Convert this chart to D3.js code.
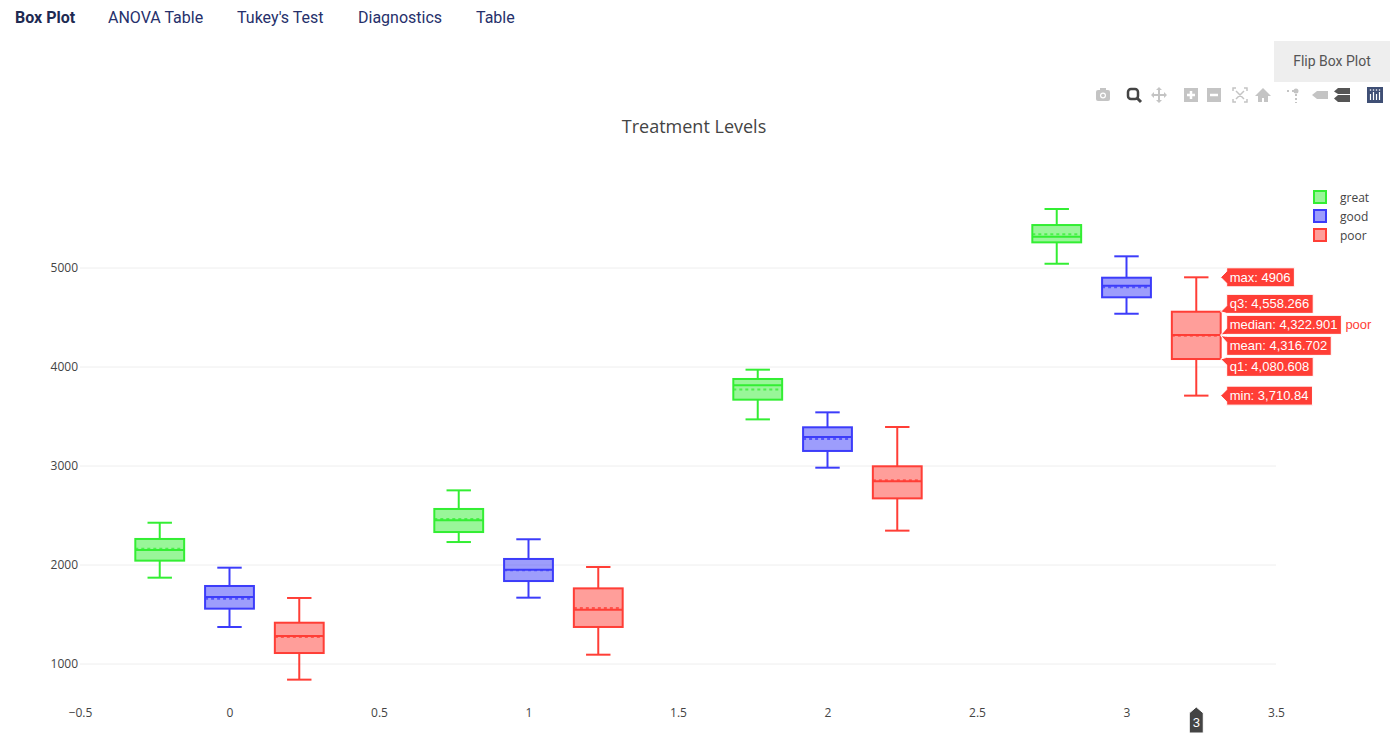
<!DOCTYPE html>
<html>
<head>
<meta charset="utf-8">
<script src="https://cdn.jsdelivr.net/npm/d3@7"></script>
<style>
  body { margin: 0; background: #fff; font-family: Roboto, "Open Sans", Arial, sans-serif; }
  #nav { position: absolute; left: 0; top: 0; height: 38px; }
  #nav span { position: absolute; top: 8px; font-size: 16px; color: #26306b; white-space: nowrap; }
  #nav span.active { font-weight: bold; color: #1e2a52; }
  #flip { position: absolute; left: 1274px; top: 41px; width: 116px; height: 41px; background: #eeeeee;
          color: #555; font-size: 14px; line-height: 41px; text-align: center; }
  #chart { position: absolute; left: 0; top: 0; }
</style>
</head>
<body>
<div id="nav">
  <span class="active" style="left:15px">Box Plot</span>
  <span style="left:108px">ANOVA Table</span>
  <span style="left:237px">Tukey's Test</span>
  <span style="left:358px">Diagnostics</span>
  <span style="left:476px">Table</span>
</div>
<div id="flip">Flip Box Plot</div>
<svg id="chart" width="1395" height="747"></svg>
<script>
// x positions of the treatment groups
var groups = [0, 1, 2, 3];
var seriesNames = ["great", "good", "poor"];
var seriesColors = ["rgb(51,238,51)", "rgb(60,60,250)", "rgb(255,62,54)"];
// per group: [min, q1, median, q3, max, mean]
var great = [
  [1872, 2044, 2152, 2263, 2427, 2165],
  [2232, 2333, 2451, 2566, 2754, 2465],
  [3471, 3670, 3815, 3879, 3973, 3774],
  [5043, 5259, 5316, 5434, 5596, 5340]
];
var good = [
  [1374, 1559, 1677, 1788, 1973, 1660],
  [1670, 1838, 1953, 2061, 2260, 1946],
  [2983, 3152, 3293, 3391, 3542, 3273],
  [4538, 4704, 4821, 4902, 5118, 4805]
];
var poor = [
  [842, 1111, 1283, 1417, 1667, 1273],
  [1094, 1374, 1549, 1764, 1980, 1566],
  [2347, 2673, 2845, 2997, 3394, 2855],
  [3710.84, 4080.608, 4322.901, 4558.266, 4906, 4316.702]
];
var xTicks = [-0.5, 0, 0.5, 1, 1.5, 2, 2.5, 3, 3.5];
var yTicks = [1000, 2000, 3000, 4000, 5000];
var hoverSeries = 2, hoverGroup = 3;

var allSeries = [great, good, poor];

var svg = d3.select("#chart");
var plotL = 80, plotR = 1276, plotT = 190, plotB = 700;

var x = d3.scaleLinear().domain([-0.5, 3.5]).range([plotL, plotR]);
var y = d3.scaleLinear().domain([636.4, 5787.9]).range([plotB, plotT]);

var chartFont = '"Open Sans", verdana, arial, sans-serif';

// title
svg.append("text")
  .attr("x", 694).attr("y", 133)
  .attr("text-anchor", "middle")
  .style("font-family", chartFont).style("font-size", "18px").style("fill", "#444")
  .text("Treatment Levels");

// grid
svg.append("g").selectAll("line").data(yTicks).enter().append("line")
  .attr("x1", plotL).attr("x2", plotR)
  .attr("y1", function(d) { return y(d); }).attr("y2", function(d) { return y(d); })
  .attr("stroke", "#eee").attr("stroke-width", 1);

// axes
var yAxis = svg.append("g").attr("transform", "translate(" + (plotL - 2) + ",0)")
  .call(d3.axisLeft(y).tickValues(yTicks).tickSize(0).tickPadding(0).tickFormat(d3.format("d")));
yAxis.select(".domain").remove();
yAxis.selectAll("text").style("font-family", chartFont).style("font-size", "12px").style("fill", "#444");

var xAxis = svg.append("g").attr("transform", "translate(0," + 708 + ")")
  .call(d3.axisBottom(x).tickValues(xTicks).tickSize(0).tickPadding(0)
    .tickFormat(function(d) { return d < 0 ? "\u2212" + Math.abs(d) : d; }));
xAxis.select(".domain").remove();
xAxis.selectAll("text").style("font-family", chartFont).style("font-size", "12px").style("fill", "#444");

// boxes
var slot = 0.7 / 3, boxW = 0.7 * 0.7 / 3;
allSeries.forEach(function(data, si) {
  var col = seriesColors[si];
  var off = (si - 1) * slot;
  var g = svg.append("g");
  var boxes = g.selectAll("g.box").data(data).enter().append("g");
  boxes.each(function(d, gi) {
    var sel = d3.select(this);
    var cx = x(groups[gi] + off);
    var x0 = x(groups[gi] + off - boxW / 2), x1 = x(groups[gi] + off + boxW / 2);
    var hw = (x1 - x0) / 4;
    sel.append("rect")
      .attr("x", x0).attr("width", x1 - x0)
      .attr("y", y(d[3])).attr("height", y(d[1]) - y(d[3]))
      .attr("fill", col).attr("fill-opacity", 0.5)
      .attr("stroke", col).attr("stroke-width", 2);
    sel.append("line").attr("x1", x0).attr("x2", x1).attr("y1", y(d[2])).attr("y2", y(d[2]))
      .attr("stroke", col).attr("stroke-width", 2);
    sel.append("line").attr("x1", x0).attr("x2", x1).attr("y1", y(d[5])).attr("y2", y(d[5]))
      .attr("stroke", col).attr("stroke-width", 2).attr("stroke-dasharray", "3,3").attr("stroke-opacity", 0.75);
    // whiskers
    [[d[3], d[4]], [d[1], d[0]]].forEach(function(w) {
      sel.append("line").attr("x1", cx).attr("x2", cx).attr("y1", y(w[0])).attr("y2", y(w[1]))
        .attr("stroke", col).attr("stroke-width", 2);
      sel.append("line").attr("x1", cx - hw).attr("x2", cx + hw).attr("y1", y(w[1])).attr("y2", y(w[1]))
        .attr("stroke", col).attr("stroke-width", 2);
    });
  });
});

// legend
var legend = svg.append("g").selectAll("g").data(seriesNames).enter().append("g")
  .attr("transform", function(d, i) { return "translate(1313," + (197 + i * 19) + ")"; });
legend.append("rect").attr("x", 1).attr("y", -6).attr("width", 12).attr("height", 12)
  .attr("fill", function(d, i) { return seriesColors[i]; }).attr("fill-opacity", 0.5)
  .attr("stroke", function(d, i) { return seriesColors[i]; }).attr("stroke-width", 2);
legend.append("text").attr("x", 27).attr("y", 4.5)
  .style("font-family", chartFont).style("font-size", "12px").style("fill", "#444")
  .text(function(d) { return d; });

// hover labels for the hovered box
var hd = allSeries[hoverSeries][hoverGroup];
var hcol = seriesColors[hoverSeries];
var hx = x(groups[hoverGroup] + (hoverSeries - 1) * slot + boxW / 2);
var fmt = d3.format(",");
var items = [
  { k: "max", v: hd[4], t: "max: " + hd[4] },
  { k: "q3", v: hd[3], t: "q3: " + fmt(hd[3]) },
  { k: "median", v: hd[2], t: "median: " + fmt(hd[2]) },
  { k: "mean", v: hd[5], t: "mean: " + fmt(hd[5]) },
  { k: "q1", v: hd[1], t: "q1: " + fmt(hd[1]) },
  { k: "min", v: hd[0], t: "min: " + fmt(hd[0]) }
];
var lh = 21;
items.forEach(function(it) { it.vy = y(it.v); it.cy = it.vy; });
// push overlapping labels apart, cluster by cluster
var clusters = items.map(function(it) { return [it]; });
var merged = true;
while (merged) {
  merged = false;
  for (var i = 0; i < clusters.length - 1; i++) {
    var a = clusters[i], b = clusters[i + 1];
    if (a[a.length - 1].cy + lh > b[0].cy) {
      var c = a.concat(b);
      var mean = d3.mean(c, function(it) { return it.vy; });
      c.forEach(function(it, j) { it.cy = mean + (j - (c.length - 1) / 2) * lh; });
      clusters.splice(i, 2, c);
      merged = true;
      break;
    }
  }
}
var hg = svg.append("g").style("font-family", "Arial, sans-serif").style("font-size", "13px");
var labs = hg.selectAll("g").data(items).enter().append("g");
labs.each(function(it) {
  var sel = d3.select(this);
  var lx = hx + 6, top0 = it.cy - 9.5, bot0 = it.cy + 9.5;
  var t = sel.append("text").attr("x", lx + 3).attr("y", it.cy + 4.5).attr("fill", "#fff").text(it.t);
  var w = t.node().getComputedTextLength() + 7;
  var b1 = Math.max(top0, Math.min(bot0, it.vy - 6)), b2 = Math.max(top0, Math.min(bot0, it.vy + 6));
  if (b2 - b1 < 6) { if (b1 <= top0) b2 = top0 + 6; else b1 = bot0 - 6; }
  sel.insert("path", "text")
    .attr("d", "M" + hx + "," + it.vy + "L" + lx + "," + b1 + "V" + top0 + "H" + (lx + w) +
      "V" + bot0 + "H" + lx + "V" + b2 + "Z")
    .attr("fill", hcol).attr("stroke", "#fff").attr("stroke-width", 1);
  if (it.k === "median") {
    sel.append("text").attr("x", lx + w + 4).attr("y", it.cy + 4.5).attr("fill", hcol).text(seriesNames[hoverSeries]);
  }
});

// spike label on the x axis
var sx = x(groups[hoverGroup] + (hoverSeries - 1) * slot);
var sg = svg.append("g");
sg.append("path")
  .attr("d", "M" + sx + ",707L" + (sx + 7) + ",713V733H" + (sx - 7) + "V713Z")
  .attr("fill", "#444").attr("stroke", "#fff").attr("stroke-width", 1);
sg.append("text").attr("x", sx).attr("y", 727).attr("text-anchor", "middle")
  .style("font-family", "Arial, sans-serif").style("font-size", "13px").attr("fill", "#fff")
  .text(groups[hoverGroup]);

// modebar
var mb = svg.append("g");
var gray = "#c4c4c4";
function icon(cx, draw) { var g = mb.append("g").attr("transform", "translate(" + cx + ",95)"); draw(g); }
icon(1103, function(g) {
  g.append("rect").attr("x", -7).attr("y", -5).attr("width", 14).attr("height", 11).attr("rx", 2).attr("fill", gray);
  g.append("rect").attr("x", -3).attr("y", -7).attr("width", 6).attr("height", 3).attr("fill", gray);
  g.append("circle").attr("r", 3).attr("cy", 0.5).attr("fill", "#fff");
  g.append("circle").attr("r", 1.8).attr("cy", 0.5).attr("fill", gray);
});
icon(1134, function(g) {
  g.append("rect").attr("x", -6).attr("y", -6).attr("width", 10).attr("height", 10).attr("rx", 3)
    .attr("fill", "none").attr("stroke", "#444").attr("stroke-width", 2.5);
  g.append("line").attr("x1", 3).attr("y1", 3).attr("x2", 7).attr("y2", 7).attr("stroke", "#444").attr("stroke-width", 3);
});
icon(1159, function(g) {
  g.append("path").attr("d", "M0,-8L3,-5H1V-1H5V-3L8,0L5,3V1H1V5H3L0,8L-3,5H-1V1H-5V3L-8,0L-5,-3V-1H-1V-5H-3Z").attr("fill", gray);
});
icon(1191, function(g) {
  g.append("rect").attr("x", -7).attr("y", -7).attr("width", 14).attr("height", 14).attr("fill", gray);
  g.append("path").attr("d", "M-4,0H4M0,-4V4").attr("stroke", "#fff").attr("stroke-width", 2.5);
});
icon(1214, function(g) {
  g.append("rect").attr("x", -7).attr("y", -7).attr("width", 14).attr("height", 14).attr("fill", gray);
  g.append("path").attr("d", "M-4,0H4").attr("stroke", "#fff").attr("stroke-width", 2.5);
});
icon(1240, function(g) {
  g.append("path").attr("d", "M-7,-4V-7H-4M4,-7H7V-4M7,4V7H4M-4,7H-7V4M-4,-4L4,4M4,-4L-4,4")
    .attr("fill", "none").attr("stroke", gray).attr("stroke-width", 1.5);
});
icon(1263, function(g) {
  g.append("path").attr("d", "M0,-7L8,1H5V7H1V3H-1V7H-5V1H-8Z").attr("fill", gray);
});
icon(1293, function(g) {
  g.append("circle").attr("cx", 3).attr("cy", -4).attr("r", 2.5).attr("fill", gray);
  g.append("path").attr("d", "M-6,-4H-4M-1,-4H1M3,-1V1M3,3V5M3,7V8").attr("stroke", gray).attr("stroke-width", 2);
});
icon(1320, function(g) {
  g.append("path").attr("d", "M-8,0L-3,-4H8V4H-3Z").attr("fill", gray);
});
icon(1342, function(g) {
  g.append("path").attr("d", "M-8,-3.5L-4,-7H8V-1H-4Z").attr("fill", "#555");
  g.append("path").attr("d", "M-8,3.5L-4,0H8V7H-4Z").attr("fill", "#555");
});
icon(1375, function(g) {
  g.append("rect").attr("x", -8).attr("y", -8).attr("width", 16).attr("height", 16).attr("fill", "#3f4f75");
  [-4.5, -1.5, 1.5, 4.5].forEach(function(dx, i) {
    g.append("line").attr("x1", dx).attr("x2", dx).attr("y1", i % 2 ? -3 : -1).attr("y2", 5)
      .attr("stroke", "#fff").attr("stroke-width", 1.2);
    g.append("circle").attr("cx", dx).attr("cy", -5).attr("r", 0.8).attr("fill", "#fff");
  });
});
</script>
</body>
</html>
